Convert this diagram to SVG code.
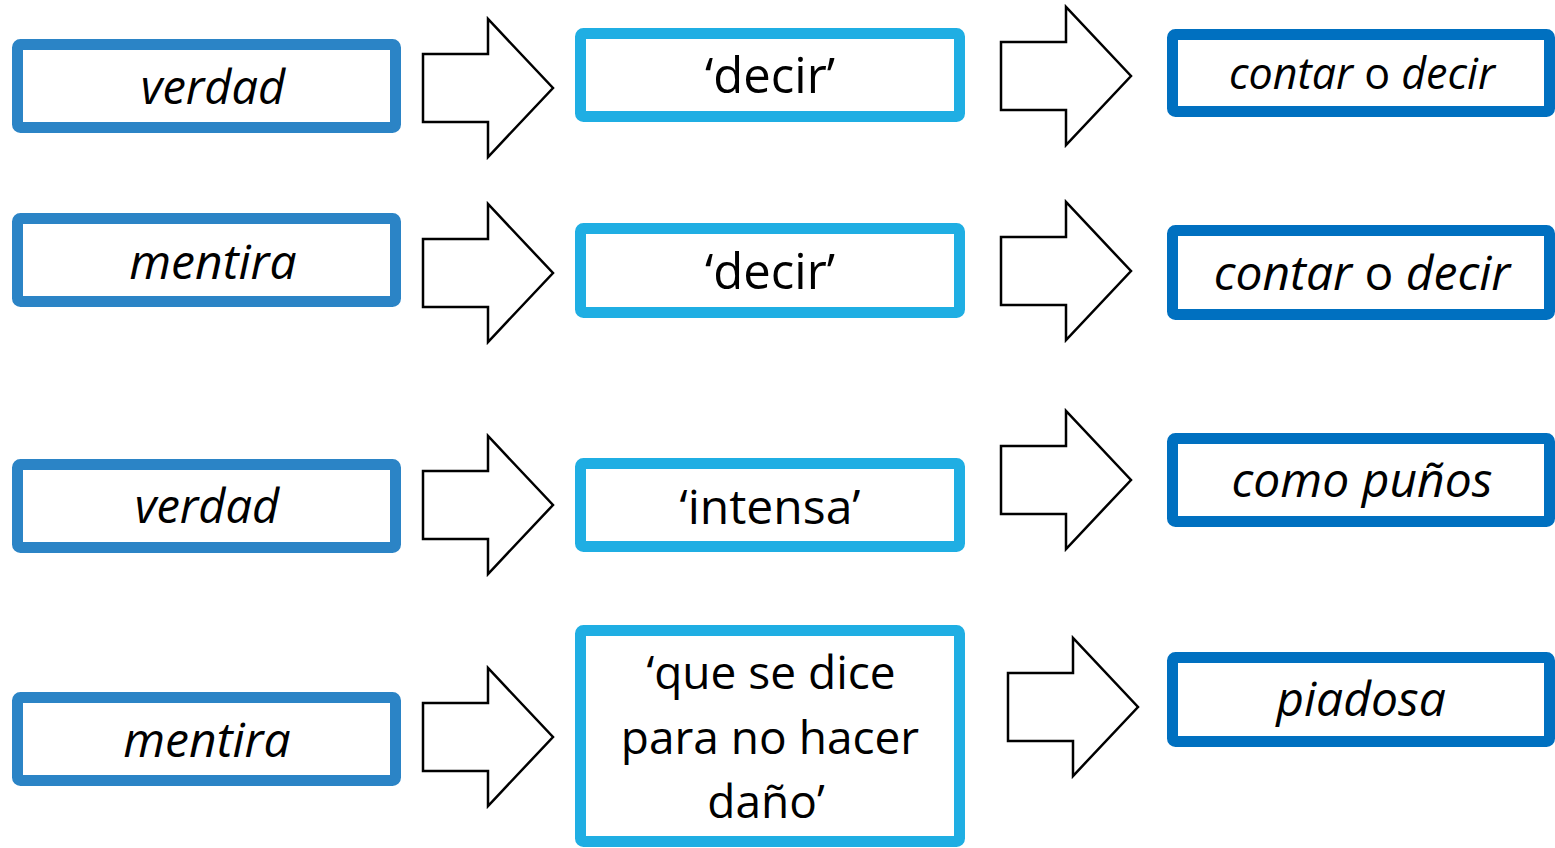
<svg xmlns="http://www.w3.org/2000/svg" width="1555" height="848" viewBox="0 0 1555 848">
<defs>
<style>
.b{fill:#fff;stroke-width:11;}
.l{stroke:#2B84C6;}
.m{stroke:#1FAEE3;}
.r{stroke:#0070C0;}
.ar{fill:#fff;stroke:#000;stroke-width:2.5;stroke-linejoin:miter;}
text{font-family:"Open Sans","Noto Sans",sans-serif;font-size:47px;fill:#000;text-anchor:middle;}
.i{font-style:italic;}
</style>
<path id="arw" d="M0,-34 H65 V-69 L130,0 L65,69 V34 H0 Z"/>
</defs>
<rect width="1555" height="848" fill="#fff"/>
<g id="connectors">
<use href="#arw" class="ar" x="423" y="88"/>
<use href="#arw" class="ar" x="423" y="273"/>
<use href="#arw" class="ar" x="423" y="505"/>
<use href="#arw" class="ar" x="423" y="737"/>
<use href="#arw" class="ar" x="1001" y="76"/>
<use href="#arw" class="ar" x="1001" y="271"/>
<use href="#arw" class="ar" x="1001" y="480"/>
<use href="#arw" class="ar" x="1008" y="707"/>
</g>
<g id="n-verdad1"><rect class="b l" x="17.5" y="44.5" width="378" height="83" rx="3"/><text class="i" x="213" y="104">verdad</text></g>
<g id="n-mentira1"><rect class="b l" x="17.5" y="218.5" width="378" height="83" rx="3"/><text class="i" x="213" y="279" style="font-size:48px">mentira</text></g>
<g id="n-verdad2"><rect class="b l" x="17.5" y="464.5" width="378" height="83" rx="3"/><text class="i" x="207" y="523">verdad</text></g>
<g id="n-mentira2"><rect class="b l" x="17.5" y="697.5" width="378" height="83" rx="3"/><text class="i" x="207" y="757" style="font-size:48px">mentira</text></g>
<g id="n-decir1"><rect class="b m" x="580.5" y="33.5" width="379" height="83" rx="3"/><text x="770" y="93" style="font-size:49px">‘decir’</text></g>
<g id="n-decir2"><rect class="b m" x="580.5" y="228.5" width="379" height="84" rx="3"/><text x="770" y="289" style="font-size:49px">‘decir’</text></g>
<g id="n-intensa"><rect class="b m" x="580.5" y="463.5" width="379" height="83" rx="3"/><text x="770" y="524" style="font-size:48px">‘intensa’</text></g>
<g id="n-dano"><rect class="b m" x="580.5" y="630.5" width="379" height="211" rx="3"/><text x="771" y="689" style="font-size:46px">‘que se dice</text><text x="770" y="754" style="font-size:46px">para no hacer</text><text x="766" y="818" style="font-size:46px">daño’</text></g>
<g id="n-contar1"><rect class="b r" x="1172.5" y="34.5" width="377" height="77" rx="3"/><text x="1362" y="89" style="font-size:43px"><tspan class="i">contar</tspan> o <tspan class="i">decir</tspan></text></g>
<g id="n-contar2"><rect class="b r" x="1172.5" y="230.5" width="377" height="84" rx="3"/><text x="1362" y="290" style="font-size:48px"><tspan class="i">contar</tspan> o <tspan class="i">decir</tspan></text></g>
<g id="n-puños"><rect class="b r" x="1172.5" y="438.5" width="377" height="83" rx="3"/><text class="i" x="1362" y="497" style="font-size:48px">como puños</text></g>
<g id="n-piadosa"><rect class="b r" x="1172.5" y="657.5" width="377" height="84" rx="3"/><text class="i" x="1361" y="716" style="font-size:48px">piadosa</text></g>
</svg>
